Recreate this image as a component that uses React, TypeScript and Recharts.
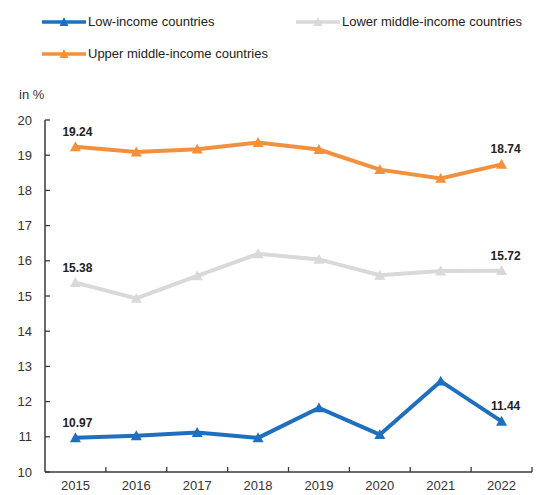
import React from "react";
import { LineChart, Line, XAxis, YAxis, LabelList } from "recharts";

const years = ["2015", "2016", "2017", "2018", "2019", "2020", "2021", "2022"];
const lowIncome = [10.97, 11.03, 11.12, 10.97, 11.82, 11.06, 12.58, 11.44];
const lowerMiddle = [15.38, 14.93, 15.57, 16.2, 16.04, 15.59, 15.71, 15.72];
const upperMiddle = [19.24, 19.09, 19.17, 19.36, 19.16, 18.59, 18.34, 18.74];
const yTicks = [10, 11, 12, 13, 14, 15, 16, 17, 18, 19, 20];

const seriesNames = ["Low-income countries", "Lower middle-income countries", "Upper middle-income countries"];
const BLUE = "#1f6fbf";
const GRAY = "#d9d9d9";
const ORANGE = "#f2913d";

const data = years.map((y, i) => ({
  year: y,
  low: lowIncome[i],
  lower: lowerMiddle[i],
  upper: upperMiddle[i],
}));

const W = 540;
const H = 495;
const PLOT_LEFT = 45;
const PLOT_RIGHT = 532;
const PLOT_TOP = 120;
const PLOT_BOTTOM = 472;
const HALF_BAND = (PLOT_RIGHT - PLOT_LEFT) / years.length / 2;
const FONT = "'Liberation Sans', Arial, sans-serif";
const AXIS_COLOR = "#3a3a3a";

const Triangle = (color: string) => (props: any) => {
  const { cx, cy, index } = props;
  if (cx == null || cy == null) return null;
  const s = 5.5;
  return (
    <path
      key={"t" + index}
      d={`M${cx},${cy - s} L${cx + s},${cy + s * 0.8} L${cx - s},${cy + s * 0.8} Z`}
      fill={color}
    />
  );
};

const EndLabel = (props: any) => {
  const { x, y, value, index } = props;
  if (index !== 0 && index !== years.length - 1) return null;
  return (
    <text
      x={x + (index === 0 ? 2 : 4)}
      y={y - 11}
      textAnchor="middle"
      fontFamily={FONT}
      fontSize={12}
      fontWeight="bold"
      fill="#222"
    >
      {Number(value).toFixed(2)}
    </text>
  );
};

const YTick = (props: any) => {
  const { x, y, payload } = props;
  return (
    <g>
      <line x1={PLOT_LEFT} x2={PLOT_LEFT + 5} y1={y} y2={y} stroke={AXIS_COLOR} strokeWidth={1.3} />
      <text x={x} y={y} dy="0.35em" textAnchor="end" fontFamily={FONT} fontSize={13} fill="#333">
        {payload.value}
      </text>
    </g>
  );
};

const XTick = (props: any) => {
  const { x, payload } = props;
  return (
    <g>
      <line
        x1={x + HALF_BAND}
        x2={x + HALF_BAND}
        y1={PLOT_BOTTOM}
        y2={PLOT_BOTTOM - 5}
        stroke={AXIS_COLOR}
        strokeWidth={1.3}
      />
      <text x={x} y={PLOT_BOTTOM + 18} textAnchor="middle" fontFamily={FONT} fontSize={13} fill="#333">
        {payload.value}
      </text>
    </g>
  );
};

const LegendItem = ({ color, label, left, top }: { color: string; label: string; left: number; top: number }) => (
  <div style={{ position: "absolute", left, top, display: "flex", alignItems: "center", fontFamily: FONT, fontSize: 13, color: "#222", whiteSpace: "nowrap" }}>
    <svg width={44} height={12} style={{ marginRight: 2 }}>
      <line x1={0} x2={44} y1={6} y2={6} stroke={color} strokeWidth={3.5} />
      <path d="M22,1 L26.5,10 L17.5,10 Z" fill={color} />
    </svg>
    <span>{label}</span>
  </div>
);

export default function App() {
  return (
    <div style={{ position: "absolute", left: 0, top: 0, width: W, height: H, background: "#fff", overflow: "visible" }}>
      <LegendItem color={BLUE} label={seriesNames[0]} left={42} top={14} />
      <LegendItem color={GRAY} label={seriesNames[1]} left={296} top={14} />
      <LegendItem color={ORANGE} label={seriesNames[2]} left={42} top={46} />
      <div style={{ position: "absolute", left: 19, top: 87, fontFamily: FONT, fontSize: 13, color: "#333" }}>in %</div>
      <div style={{ position: "absolute", left: 0, top: 0 }}>
        <LineChart
          width={W}
          height={H}
          data={data}
          style={{ overflow: "visible" }}
          margin={{ top: PLOT_TOP, right: W - PLOT_RIGHT, bottom: 0, left: 0 }}
        >
          <XAxis
            dataKey="year"
            height={H - PLOT_BOTTOM}
            padding={{ left: HALF_BAND, right: HALF_BAND }}
            tickLine={false}
            tickSize={0}
            tickMargin={9}
            axisLine={{ stroke: AXIS_COLOR, strokeWidth: 1.5 }}
            tick={<XTick />}
            interval={0}
          />
          <YAxis
            width={PLOT_LEFT}
            domain={[10, 20]}
            ticks={yTicks}
            tickLine={false}
            tickSize={0}
            tickMargin={13}
            axisLine={{ stroke: AXIS_COLOR, strokeWidth: 1.5 }}
            tick={<YTick />}
            interval={0}
          />
          <Line
            dataKey="upper"
            stroke={ORANGE}
            strokeWidth={4}
            dot={Triangle(ORANGE)}
            activeDot={false}
            isAnimationActive={false}
          >
            <LabelList dataKey="upper" content={<EndLabel />} />
          </Line>
          <Line
            dataKey="lower"
            stroke={GRAY}
            strokeWidth={4}
            dot={Triangle(GRAY)}
            activeDot={false}
            isAnimationActive={false}
          >
            <LabelList dataKey="lower" content={<EndLabel />} />
          </Line>
          <Line
            dataKey="low"
            stroke={BLUE}
            strokeWidth={4}
            dot={Triangle(BLUE)}
            activeDot={false}
            isAnimationActive={false}
          >
            <LabelList dataKey="low" content={<EndLabel />} />
          </Line>
        </LineChart>
      </div>
    </div>
  );
}
